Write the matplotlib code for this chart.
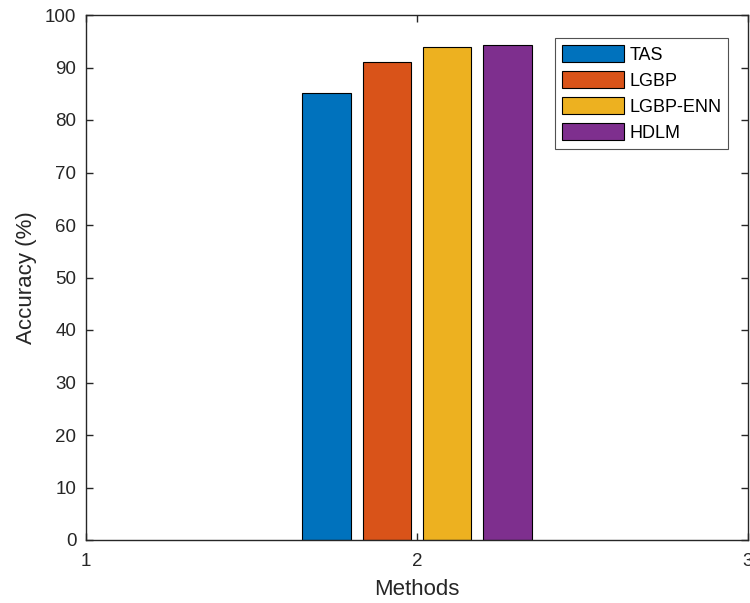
import numpy as np
import matplotlib.pyplot as plt

plt.rcParams['font.family'] = ['Liberation Sans', 'DejaVu Sans']

methods = ['TAS', 'LGBP', 'LGBP-ENN', 'HDLM']
accuracy = [85.2, 91.0, 93.9, 94.3]
colors = ['#0072BD', '#D95319', '#EDB120', '#7E2F8E']

group_x = 2
offsets = [-0.273, -0.091, 0.091, 0.273]
bar_width = 0.146

fig = plt.figure(figsize=(7.5, 6.03), dpi=100)
ax = fig.add_axes([86 / 750, 1 - 540 / 603, (748 - 86) / 750, (540 - 15) / 603])

for name, val, c, off in zip(methods, accuracy, colors, offsets):
    ax.bar(group_x + off, val, width=bar_width, color=c, edgecolor='black',
           linewidth=0.8, label=name)

ax.set_xlim(1, 3)
ax.set_ylim(0, 100)
ax.set_xticks([1, 2, 3])
ax.set_yticks(np.arange(0, 101, 10))
ax.tick_params(direction='in', length=5, width=1.0, labelsize=13.5,
               colors='#262626', top=True, right=True)
ax.tick_params(axis='x', pad=9)
ax.tick_params(axis='y', pad=7)
for s in ax.spines.values():
    s.set_color('#262626')
    s.set_linewidth(1.0)

ax.set_xlabel('Methods', fontsize=16, color='#262626')
ax.xaxis.set_label_coords(0.5, -0.074)
ax.set_ylabel('Accuracy (%)', fontsize=16, color='#262626')
ax.yaxis.set_label_coords(-0.074, 0.5)

leg = ax.legend(loc='upper right', bbox_to_anchor=(0.970, 0.956), fontsize=13,
                frameon=True, fancybox=False, edgecolor='#262626',
                handlelength=3.4, handleheight=1.1, handletextpad=0.3,
                labelspacing=0.4, borderpad=0.38, borderaxespad=0)
leg.get_frame().set_linewidth(0.8)
for h in leg.legend_handles:
    h.set_edgecolor('black')
    h.set_linewidth(0.8)

fig.savefig('out.png', dpi=100)
